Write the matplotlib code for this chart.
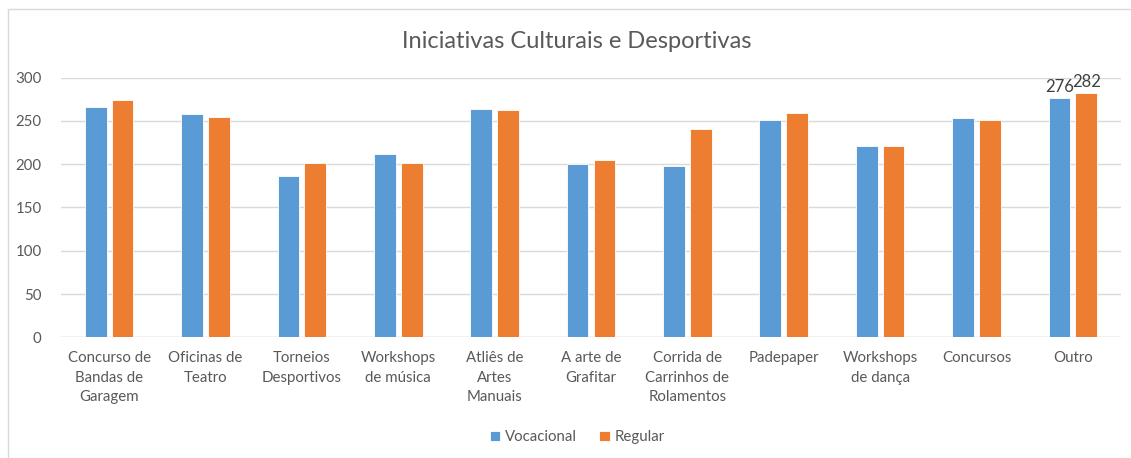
import matplotlib.pyplot as plt
import matplotlib.patches as patches
import numpy as np

categorias = ['Concurso de\nBandas de\nGaragem', 'Oficinas de\nTeatro', 'Torneios\nDesportivos',
              'Workshops\nde música', 'Atliês de\nArtes\nManuais', 'A arte de\nGrafitar',
              'Corrida de\nCarrinhos de\nRolamentos', 'Padepaper', 'Workshops\nde dança',
              'Concursos', 'Outro']
vocacional = [266, 258, 186, 212, 264, 200, 198, 251, 221, 254, 276]
regular = [274, 255, 201, 202, 263, 205, 241, 259, 221, 251, 282]

cor_texto = '#595959'
plt.rcParams['font.family'] = ['Lato', 'DejaVu Sans']

fig = plt.figure(figsize=(11.31, 4.58), dpi=100)
ax = fig.add_axes([61 / 1131, 1 - 337.3 / 458, 1060 / 1131, 259.6 / 458])

# moldura do gráfico
fig.patches.append(patches.Rectangle((8 / 1131, -0.01), 1.1, 1 - 9 / 458 + 0.01,
                                     transform=fig.transFigure, fill=False,
                                     edgecolor='#d9d9d9', linewidth=1))

x = np.arange(len(categorias))
largura = 0.225
b1 = ax.bar(x - 0.139, vocacional, largura, color='#5B9BD5', edgecolor='white', linewidth=0.6,
            label='Vocacional', zorder=3)
b2 = ax.bar(x + 0.139, regular, largura, color='#ED7D31', edgecolor='white', linewidth=0.6,
            label='Regular', zorder=3)

# rótulos só na última categoria
ax.text(x[-1] - 0.139, vocacional[-1] + 4, str(vocacional[-1]), ha='center', va='bottom',
        fontsize=12, color='#404040')
ax.text(x[-1] + 0.139, regular[-1] + 4, str(regular[-1]), ha='center', va='bottom',
        fontsize=12, color='#404040')

ax.set_xlim(-0.5, len(categorias) - 0.5)
ax.set_ylim(0, 300)
ax.set_yticks(range(0, 301, 50))
ax.yaxis.grid(True, color='#d9d9d9', linewidth=1, zorder=0)
ax.set_axisbelow(True)
for s in ax.spines.values():
    s.set_visible(False)
ax.axhline(0, color='#d9d9d9', linewidth=1, zorder=1)

ax.set_xticks(x)
ax.set_xticklabels(categorias, fontsize=10.8, color=cor_texto, linespacing=1.5)
ax.tick_params(axis='x', length=0, pad=10)
ax.tick_params(axis='y', length=0, pad=14, labelsize=10.8, labelcolor=cor_texto)

fig.text(577 / 1131, 1 - 42 / 458, 'Iniciativas Culturais e Desportivas', ha='center', va='center',
         fontsize=17, color=cor_texto)

fig.legend(handles=[b1, b2], loc='center', bbox_to_anchor=(577 / 1131, 1 - 437 / 458), ncol=2,
           frameon=False, fontsize=10.8, labelcolor=cor_texto, handlelength=0.7, handleheight=0.7,
           handletextpad=0.3, columnspacing=1.5)

fig.savefig('out.png', dpi=100)
